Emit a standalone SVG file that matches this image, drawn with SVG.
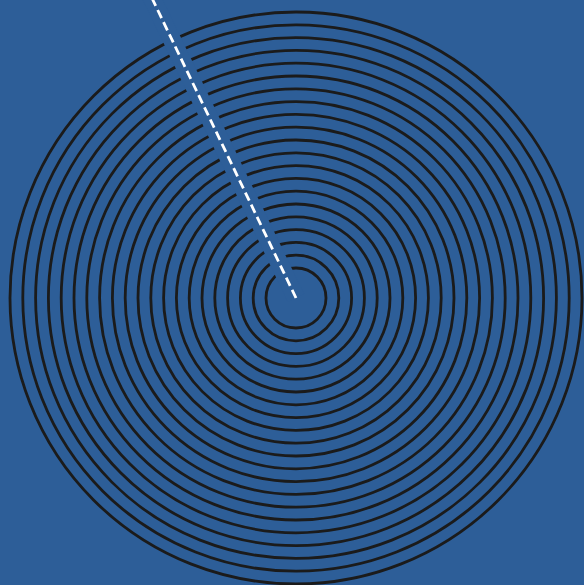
<svg xmlns="http://www.w3.org/2000/svg" width="584" height="585" viewBox="0 0 584 585">
  <style>
    .ring { fill: none; stroke: #1b1b1b; stroke-width: 2.8; }
    .gap { stroke: #2d5e98; stroke-width: 18; fill: none; }
    .dash { stroke: #ffffff; stroke-width: 2.8; fill: none; stroke-dasharray: 9 4.5; }
  </style>
  <rect width="584" height="585" fill="#2d5e98"/>
  <g id="rings">
    <circle class="ring" cx="296" cy="298" r="30"/>
    <circle class="ring" cx="296" cy="298" r="42.8"/>
    <circle class="ring" cx="296" cy="298" r="55.6"/>
    <circle class="ring" cx="296" cy="298" r="68.4"/>
    <circle class="ring" cx="296" cy="298" r="81.2"/>
    <circle class="ring" cx="296" cy="298" r="94"/>
    <circle class="ring" cx="296" cy="298" r="106.8"/>
    <circle class="ring" cx="296" cy="298" r="119.6"/>
    <circle class="ring" cx="296" cy="298" r="132.4"/>
    <circle class="ring" cx="296" cy="298" r="145.2"/>
    <circle class="ring" cx="296" cy="298" r="158"/>
    <circle class="ring" cx="296" cy="298" r="170.8"/>
    <circle class="ring" cx="296" cy="298" r="183.6"/>
    <circle class="ring" cx="296" cy="298" r="196.4"/>
    <circle class="ring" cx="296" cy="298" r="209.2"/>
    <circle class="ring" cx="296" cy="298" r="222"/>
    <circle class="ring" cx="296" cy="298" r="234.8"/>
    <circle class="ring" cx="296" cy="298" r="247.6"/>
    <circle class="ring" cx="296" cy="298" r="260.4"/>
    <circle class="ring" cx="296" cy="298" r="273.2"/>
    <circle class="ring" cx="296" cy="298" r="286"/>
  </g>
  <g id="connectors">
    <path class="gap" d="M296 298 L150 -6"/>
    <path class="dash" d="M296 298 L150 -6"/>
  </g>
</svg>
